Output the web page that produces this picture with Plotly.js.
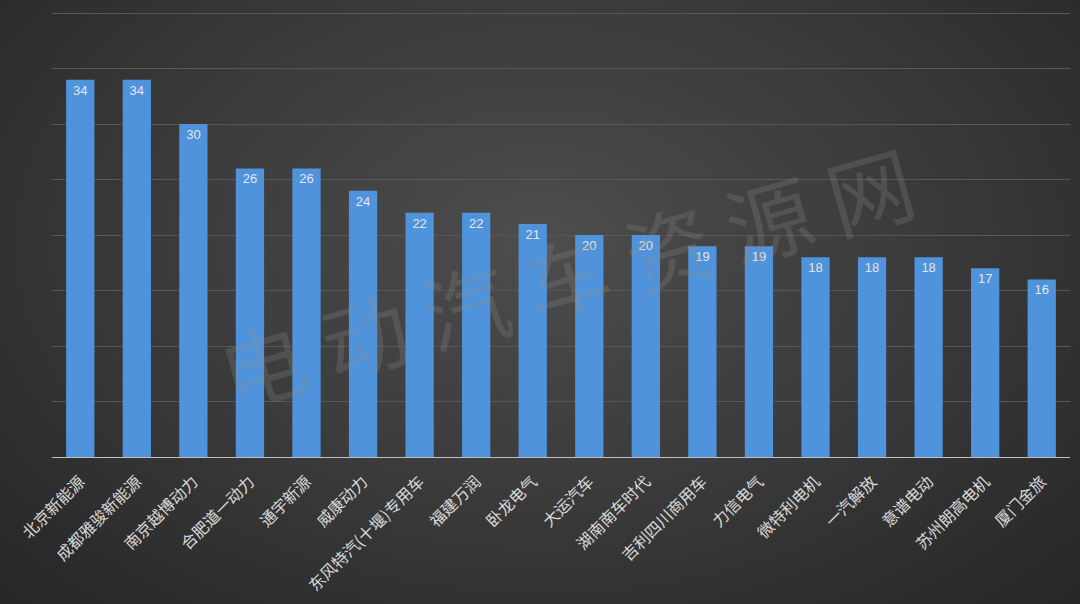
<!DOCTYPE html>
<html><head><meta charset="utf-8">
<script src="https://cdn.plot.ly/plotly-3.0.1.min.js"></script>
<style>
html,body{margin:0;padding:0;}
body{width:1080px;height:604px;background:radial-gradient(ellipse at 50% 40%, #4d4d4d 0%, #3c3c3c 45%, #262626 100%);}
#chart{width:1080px;height:604px;}
</style></head><body>
<div id="chart"></div>
<script>
const categories = ["北京新能源","成都雅骏新能源","南京越博动力","合肥道一动力","通宇新源","威康动力","东风特汽(十堰)专用车","福建万润","卧龙电气","大运汽车","湖南南车时代","吉利四川商用车","力信电气","微特利电机","一汽解放","意谱电动","苏州朗高电机","厦门金旅"];
const values = [34,34,30,26,26,24,22,22,21,20,20,19,19,18,18,18,17,16];
const watermark = "电 动 汽 车 资 源 网";

const trace = {
  type: 'bar',
  x: categories,
  y: values,
  text: values.map(String),
  textposition: 'inside',
  insidetextanchor: 'end',
  textfont: {family: 'Liberation Sans, Arial', size: 13, color: '#e6e6e6'},
  marker: {color: '#4f93dc', line: {width: 0}},
  hoverinfo: 'none'
};
const layout = {
  width: 1080, height: 604,
  paper_bgcolor: 'rgba(0,0,0,0)',
  plot_bgcolor: 'rgba(0,0,0,0)',
  margin: {l: 52, r: 10, t: 12, b: 147},
  bargap: 0.5,
  showlegend: false,
  font: {family: 'Noto Sans CJK SC, sans-serif', color: '#d9d9d9'},
  xaxis: {
    tickangle: -45,
    tickfont: {size: 16, color: '#d9d9d9', family: 'Noto Sans CJK SC'},
    ticklabelstandoff: 8,
    showline: true, linecolor: '#bfbfbf', linewidth: 1,
    showgrid: false, ticks: '', ticklen: 0
  },
  yaxis: {
    range: [0, 40.1], dtick: 5,
    showticklabels: false,
    gridcolor: '#575757', gridwidth: 1,
    zeroline: false, showline: false, ticks: ''
  },
  annotations: [{
    text: watermark, xref: 'paper', yref: 'paper', x: 0.505, y: 0.41,
    showarrow: false, textangle: -16,
    font: {family: 'Noto Sans CJK SC', size: 86, color: 'rgba(140,140,140,0.25)'}
  }]
};
Plotly.newPlot('chart', [trace], layout, {displayModeBar: false, staticPlot: true});
</script>
</body></html>
